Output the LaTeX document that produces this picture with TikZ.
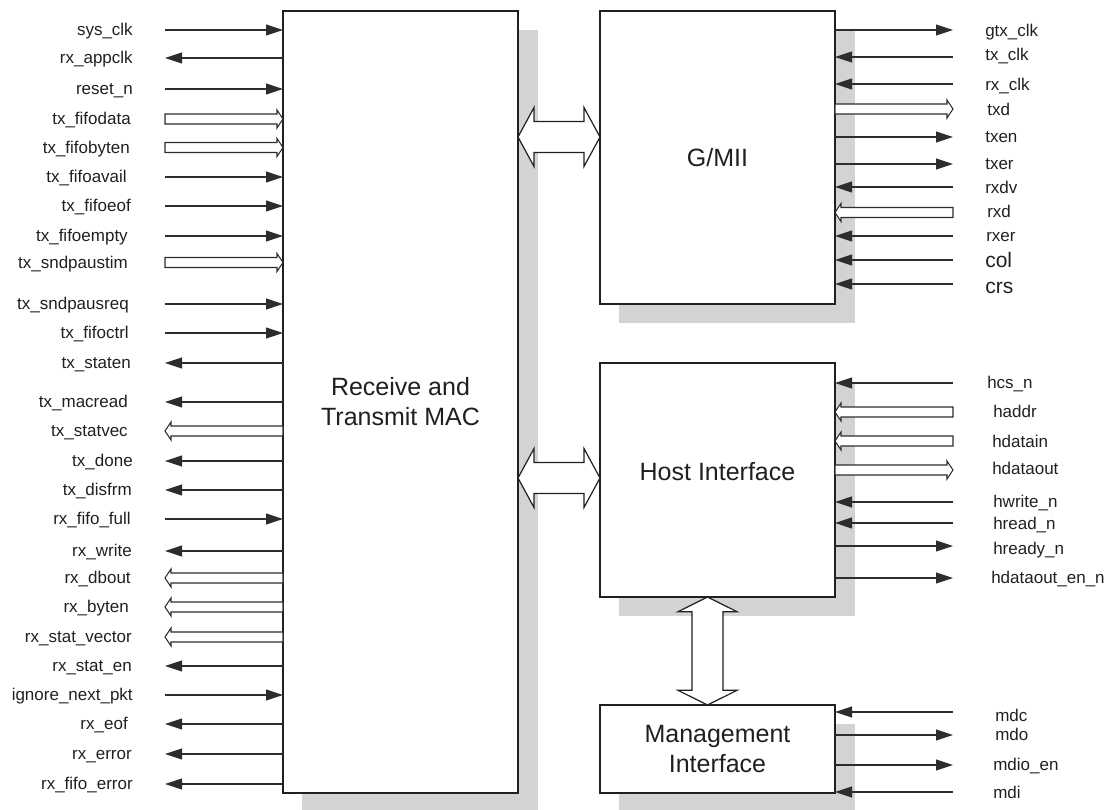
\documentclass[tikz,border=0pt]{standalone}
\usepackage{fontspec}
\setmainfont{Liberation Sans}
\usetikzlibrary{arrows.meta,calc,backgrounds}
\definecolor{shadowgray}{RGB}{210,211,213}
\definecolor{ink}{RGB}{35,31,32}
\definecolor{wirec}{RGB}{45,45,45}
\tikzset{
  box/.style={draw=ink, line width=1.1pt, fill=white, inner sep=0pt, outer sep=0pt,
    font=\fontsize{18.75}{22.5}\selectfont, align=center, text=ink},
  boxtext/.style={font=\fontsize{18.75}{22.5}\selectfont, align=center, text=ink, inner sep=0pt},
  wire/.style={draw=wirec, line width=0.8pt},
  sig/.style={wire, -{Triangle[length=12.75pt,width=8.25pt]}},
  lab/.style={font=\fontsize{12.75}{15}\selectfont, text=ink, inner sep=0pt},
  biglab/.style={font=\fontsize{15.75}{18}\selectfont, text=ink, inner sep=0pt},
  bus/.style={draw=wirec, line width=0.8pt, fill=white, line join=miter},
  dbl/.style={draw=ink, line width=0.9pt, fill=white, line join=miter},
  dropshade/.style={fill=shadowgray, draw=none},
}
\newcommand\busright[2]{\draw[bus] let \p1=(#1), \p2=(#2) in
  (\x1,\y1+3.75pt) -- (\x2-4.5pt,\y1+3.75pt) -- (\x2-4.5pt,\y1+6.75pt) -- (\x2,\y1)
  -- (\x2-4.5pt,\y1-6.75pt) -- (\x2-4.5pt,\y1-3.75pt) -- (\x1,\y1-3.75pt) -- cycle;}
\newcommand\busleft[2]{\draw[bus] let \p1=(#1), \p2=(#2) in
  (\x1,\y1+3.75pt) -- (\x2+4.5pt,\y1+3.75pt) -- (\x2+4.5pt,\y1+6.75pt) -- (\x2,\y1)
  -- (\x2+4.5pt,\y1-6.75pt) -- (\x2+4.5pt,\y1-3.75pt) -- (\x1,\y1-3.75pt) -- cycle;}
\newcommand\dblh[2]{\draw[dbl] let \p1=(#1), \p2=(#2) in
  (\x1,\y1) -- (\x1+12pt,\y1+22.1pt) -- (\x1+12pt,\y1+11.6pt) -- (\x2-12pt,\y1+11.6pt)
  -- (\x2-12pt,\y1+22.1pt) -- (\x2,\y1) -- (\x2-12pt,\y1-22.1pt) -- (\x2-12pt,\y1-11.6pt)
  -- (\x1+12pt,\y1-11.6pt) -- (\x1+12pt,\y1-22.1pt) -- cycle;}
\newcommand\dblv[2]{\draw[dbl] let \p1=(#1), \p2=(#2) in
  (\x1,\y1) -- (\x1+22.1pt,\y1-11pt) -- (\x1+11.6pt,\y1-11pt) -- (\x1+11.6pt,\y2+11pt)
  -- (\x1+22.1pt,\y2+11pt) -- (\x1,\y2) -- (\x1-22.1pt,\y2+11pt) -- (\x1-11.6pt,\y2+11pt)
  -- (\x1-11.6pt,\y1-11pt) -- (\x1-22.1pt,\y1-11pt) -- cycle;}
\begin{document}
\begin{tikzpicture}[x=0.75pt,y=-0.75pt]
\useasboundingbox (0,0) rectangle (1111,810);
% boxes
\node[box, minimum width=235*0.75pt, minimum height=782*0.75pt] (mac) at (400.5,402) {Receive and\\Transmit MAC};
\node[box, minimum width=235*0.75pt, minimum height=293*0.75pt] (gmii) at (717.5,157.5) {G/MII};
\node[box, minimum width=235*0.75pt, minimum height=234*0.75pt] (host) at (717.5,480) {};
\node[boxtext] (hosttxt) at ($(host.center)+(0,-8)$) {Host Interface};
\node[box, minimum width=235*0.75pt, minimum height=88*0.75pt] (mgmt) at (717.5,749) {Management\\Interface};
\begin{scope}[on background layer]
  \foreach \b in {mac,gmii,host,mgmt}
    \path[dropshade] ($(\b.north west)+(19,19)$) rectangle ($(\b.south east)+(20,19)$);
\end{scope}
% left signals: y / label / type / label right edge
\foreach \y/\t/\k/\lx [count=\i] in {
  30/sys\_clk/1/133, 58/rx\_appclk/2/133, 89/reset\_n/1/133,
  119/tx\_fifodata/3/131, 147.5/tx\_fifobyten/3/130, 177/tx\_fifoavail/1/127,
  206/tx\_fifoeof/1/131, 236/tx\_fifoempty/1/128, 262.5/tx\_sndpaustim/3/128,
  304/tx\_sndpausreq/1/129, 333/tx\_fifoctrl/1/129, 363/tx\_staten/2/131,
  402/tx\_macread/2/128, 431/tx\_statvec/4/128, 461/tx\_done/2/133,
  490/tx\_disfrm/2/132, 519/rx\_fifo\_full/1/131, 551/rx\_write/2/132,
  578/rx\_dbout/4/131, 607/rx\_byten/4/129, 637/rx\_stat\_vector/4/132,
  666/rx\_stat\_en/2/132, 695/ignore\_next\_pkt/1/133, 724/rx\_eof/2/128,
  754/rx\_error/2/132, 784/rx\_fifo\_error/2/133}{
  \coordinate (ls\i) at (165,\y);
  \node[lab, anchor=base east] (ll\i) at (\lx,\y+5.5) {\t};
  \ifcase\k\or
    \draw[sig] (ls\i) -- (mac.west |- ls\i);
  \or
    \draw[sig] (mac.west |- ls\i) -- (ls\i);
  \or
    \busright{ls\i}{mac.west |- ls\i}
  \or
    \busleft{mac.west |- ls\i}{ls\i}
  \fi
}
% G/MII signals
\foreach \y/\t/\k/\lx/\ly [count=\i] in {
  30/gtx\_clk/2/985/31, 57/tx\_clk/1/985/55, 84/rx\_clk/1/985/85,
  109/txd/4/987/110, 137/txen/2/985/137, 164/txer/2/985/164,
  187/rxdv/1/985/188, 212.5/rxd/3/987/212, 236/rxer/1/986/236}{
  \coordinate (gs\i) at (953,\y);
  \node[lab, anchor=base west] (gl\i) at (\lx,\ly+5.5) {\t};
  \ifcase\k\or
    \draw[sig] (gs\i) -- (gmii.east |- gs\i);
  \or
    \draw[sig] (gmii.east |- gs\i) -- (gs\i);
  \or
    \busleft{gs\i}{gmii.east |- gs\i}
  \or
    \busright{gmii.east |- gs\i}{gs\i}
  \fi
}
\foreach \y/\t/\ly [count=\i] in {260/col/260, 284/crs/286}{
  \coordinate (gb\i) at (953,\y);
  \node[biglab, anchor=base west] (gbl\i) at (985,\ly+7) {\t};
  \draw[sig] (gb\i) -- (gmii.east |- gb\i);
}
% Host signals
\foreach \y/\t/\k/\lx/\ly [count=\i] in {
  383/hcs\_n/1/987/383, 412/haddr/3/993/412, 441/hdatain/3/992/442,
  470/hdataout/4/992/469, 502/hwrite\_n/1/993/502, 523/hread\_n/1/993/524,
  546/hready\_n/2/993/549, 578/hdataout\_en\_n/2/991/578}{
  \coordinate (hs\i) at (953,\y);
  \node[lab, anchor=base west] (hl\i) at (\lx,\ly+5.5) {\t};
  \ifcase\k\or
    \draw[sig] (hs\i) -- (host.east |- hs\i);
  \or
    \draw[sig] (host.east |- hs\i) -- (hs\i);
  \or
    \busleft{hs\i}{host.east |- hs\i}
  \or
    \busright{host.east |- hs\i}{hs\i}
  \fi
}
% Management signals
\foreach \y/\t/\k/\lx/\ly [count=\i] in {
  712/mdc/1/995/716, 735/mdo/2/995/735, 765/mdio\_en/2/993/765, 792/mdi/1/993/793}{
  \coordinate (ms\i) at (953,\y);
  \node[lab, anchor=base west] (ml\i) at (\lx,\ly+5.5) {\t};
  \ifcase\k\or
    \draw[sig] (ms\i) -- (mgmt.east |- ms\i);
  \or
    \draw[sig] (mgmt.east |- ms\i) -- (ms\i);
  \fi
}
% internal buses
\coordinate (ga) at (558,137);
\coordinate (ha) at (558,478);
\coordinate (va) at (707.5,650);
\dblh{mac.east |- ga}{gmii.west |- ga}
\dblh{mac.east |- ha}{host.west |- ha}
\dblv{host.south -| va}{mgmt.north -| va}
\end{tikzpicture}
\end{document}
